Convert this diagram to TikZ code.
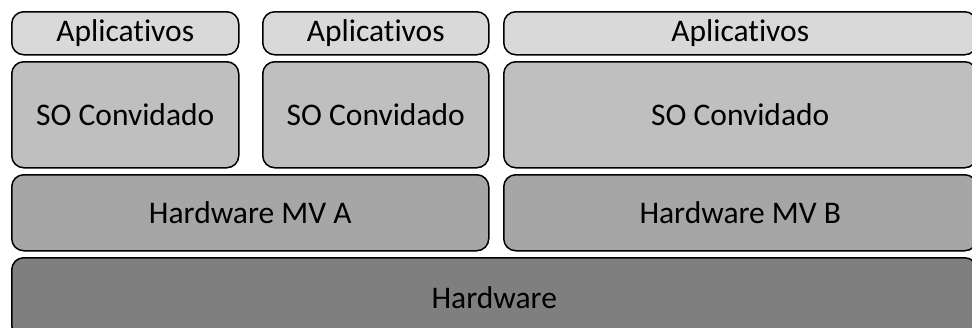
\documentclass[tikz,border=0pt]{standalone}
\usepackage{fontspec}
\setmainfont{Carlito}[Ligatures=CommonOff]
\usetikzlibrary{positioning}
\definecolor{appgray}{HTML}{D9D9D9}
\definecolor{sogray}{HTML}{BFBFBF}
\definecolor{mvgray}{HTML}{A6A6A6}
\definecolor{hwgray}{HTML}{7F7F7F}

\begin{document}
\begin{tikzpicture}[x=0.5pt,y=-0.5pt,
	layer/.style = {% rounded boxes
		draw=black, line width=0.75pt, rounded corners=6pt,
		anchor=north west, inner sep=0pt,
		font=\fontsize{15.75}{18}\selectfont,},
	app/.style = {layer, fill=appgray, minimum height=21.5pt},
	so/.style = {layer, fill=sogray, minimum height=53pt},
	mv/.style = {layer, fill=mvgray, minimum height=38pt},
	]
	
	\clip (0,0) rectangle (972,327);
	\useasboundingbox (0,0) rectangle (972,327);
	% applications
	\node[app, minimum width=113.5pt] (app1) at (11,11) {Aplicativos};
	\node[app, minimum width=113pt] (app2) at (262,11) {Aplicativos};
	\node[app, minimum width=236.5pt] (app3) at (503,11) {Aplicativos};
	% guest systems
	\node[so, minimum width=113.5pt] (so1) at (11,61) {SO Convidado};
	\node[so, minimum width=113pt] (so2) at (262,61) {SO Convidado};
	\node[so, minimum width=236.5pt] (so3) at (503,61) {SO Convidado};
	% virtual machines
	\node[mv, minimum width=238.5pt] (mva) at (11,174) {Hardware MV A};
	\node[mv, minimum width=236.5pt] (mvb) at (503,174) {Hardware MV B};
	% host
	\node[layer, fill=hwgray, minimum width=482.5pt, minimum height=40pt]
		(hw) at (11,257) {Hardware};

\end{tikzpicture}
\end{document}
